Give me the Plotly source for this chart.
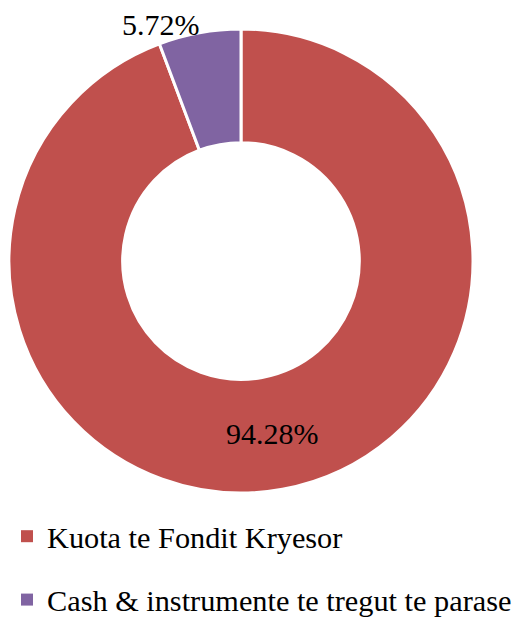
import plotly.graph_objects as go

labels = ["Kuota te Fondit Kryesor", "Cash & instrumente te tregut te parase"]
values = [94.28, 5.72]
colors = ["#C0504D", "#8064A2"]
text_labels = ["94.28%", ""]
outside_label = "5.72%"

W, H = 531, 617
FONT = "Liberation Serif"
OFF = 8  # page body margin offset

fig = go.Figure()
fig.add_trace(go.Pie(
    labels=labels, values=values, sort=False, direction="clockwise", rotation=0,
    hole=0.51, marker=dict(colors=colors, line=dict(color="white", width=3)),
    text=text_labels, textinfo="text", textposition="inside",
    insidetextorientation="horizontal",
    textfont=dict(family=FONT, size=30, color="black"),
    showlegend=False, hoverinfo="label+percent",
    domain=dict(x=[(9 - OFF) / W, (473 - OFF) / W], y=[1 - (493 - OFF) / H, 1 - (29 - OFF) / H]),
))
for i, (lab, col) in enumerate(zip(labels, colors)):
    fig.add_trace(go.Scatter(
        x=[None], y=[None], mode="markers", name=lab, legendgroup=f"g{i}",
        marker=dict(symbol="square", size=10, color=col),
    ))

fig.add_annotation(text=outside_label, x=(161 - OFF) / W, y=1 - (25 - OFF) / H,
                   xref="paper", yref="paper", xanchor="center", yanchor="middle",
                   showarrow=False, font=dict(family=FONT, size=30, color="black"))

fig.update_layout(
    width=W, height=H, margin=dict(l=0, r=0, t=0, b=0, autoexpand=False),
    paper_bgcolor="white", plot_bgcolor="white",
    xaxis=dict(visible=False), yaxis=dict(visible=False),
    legend=dict(x=-1 / W, y=1 - 502 / H, xanchor="left", yanchor="top",
                font=dict(family=FONT, size=30.3, color="black"),
                tracegroupgap=21, itemsizing="constant", bgcolor="rgba(0,0,0,0)"),
)
fig.write_html("out.html")
